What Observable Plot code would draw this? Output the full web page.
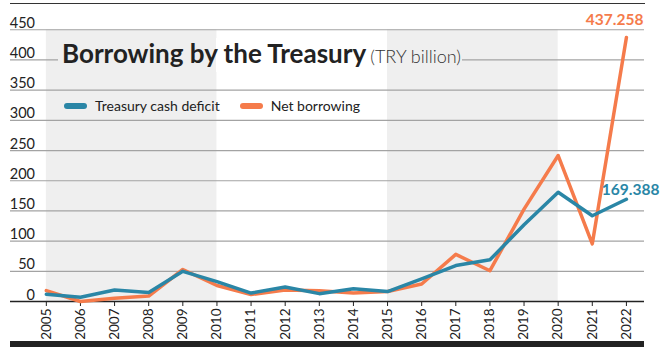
<!DOCTYPE html>
<html><head><meta charset="utf-8">
<script src="https://cdn.jsdelivr.net/npm/d3@7"></script>
<script src="https://cdn.jsdelivr.net/npm/@observablehq/plot@0.6"></script>
<style>
body{margin:0;background:#fff;}
#wrap{position:relative;width:662px;height:355px;font-family:Lato,sans-serif;color:#222;}
#title{position:absolute;left:58px;top:38px;padding:0 1px 0 4px;white-space:nowrap;line-height:30px;}
#title b{font-size:26px;font-weight:700;color:#222;}
#title span{font-size:18px;font-weight:300;color:#333;}
#legend{position:absolute;left:64px;top:97px;font-size:14px;white-space:nowrap;color:#222;}
.sw{display:inline-block;width:23px;height:6px;border-radius:3px;vertical-align:middle;margin-right:8px;position:relative;top:-1px;}
.item{display:inline-block;margin-right:20px;}
#bar{position:absolute;left:10px;top:341px;width:634px;height:5.5px;background:#222;}
</style></head><body><div id="wrap"></div>
<script>
const years = [2005,2006,2007,2008,2009,2010,2011,2012,2013,2014,2015,2016,2017,2018,2019,2020,2021,2022];
const deficit = [12,7,19,15,50,33,14,24,13,21,16.5,37.5,59.6,69,127,181,142,169.388];
const borrowing = [18,0,5.5,9,53,26.5,11.6,19,18,14,16.5,29,78,51,153,241.7,95.5,437.258];
const seriesNames = ["Treasury cash deficit","Net borrowing"];
const seriesColors = ["#2a86a6","#f57b4b"];
const yTicks = [0,50,100,150,200,250,300,350,400,450];
const bandStarts = [2005,2015];
const bandEnds = [2010,2020];
const endLabels = ["169.388","437.258"];

const deficitRows = years.map((y,i)=>({year:y,value:deficit[i]}));
const borrowingRows = years.map((y,i)=>({year:y,value:borrowing[i]}));
const bands = bandStarts.map((s,i)=>({start:s,end:bandEnds[i]}));
const yTop = yTicks[yTicks.length-1];
const lastIdx = years.length-1;

const plot = Plot.plot({
  width:662, height:355,
  marginLeft:10, marginRight:18, marginTop:3, marginBottom:54,
  x:{domain:[2003.95,2022.53], ticks:years, tickFormat:d=>String(d), tickRotate:-90, tickSize:5, tickPadding:2, label:null},
  y:{domain:[0,493.5], axis:null},
  style:{fontFamily:"Lato, sans-serif", fontSize:"13.5px", color:"#222", background:"transparent"},
  marks:[
    Plot.rect(bands,{x1:"start",x2:"end",y1:0,y2:yTop,fill:"#efefef"}),
    Plot.ruleY(yTicks.filter(d=>d>0),{stroke:"#a3a3a3",strokeWidth:1.2}),
    Plot.ruleY([0],{stroke:"#222",strokeWidth:1.5}),
    Plot.frame({anchor:"top", stroke:"#333"}),
    Plot.text(yTicks,{y:d=>d, text:d=>String(d), frameAnchor:"left", dx:24.5, textAnchor:"end", lineAnchor:"bottom", dy:-2, fontSize:14.5, fill:"#222"}),
    Plot.line(borrowingRows,{x:"year",y:"value",stroke:seriesColors[1],strokeWidth:3.5,strokeLinejoin:"round"}),
    Plot.line(deficitRows,{x:"year",y:"value",stroke:seriesColors[0],strokeWidth:3.5,strokeLinejoin:"round"}),
    Plot.text([borrowingRows[lastIdx]],{x:"year",y:"value",text:()=>endLabels[1],textAnchor:"end",lineAnchor:"bottom",dx:17,dy:-12.5,fill:seriesColors[1],fontWeight:"bold",fontSize:15.5}),
    Plot.text([deficitRows[lastIdx]],{x:"year",y:"value",text:()=>endLabels[0],textAnchor:"end",lineAnchor:"bottom",dx:33,dy:-4,fill:seriesColors[0],fontWeight:"bold",fontSize:15.5})
  ]
});
const wrap = document.getElementById("wrap");
wrap.appendChild(plot);

const title = document.createElement("div");
title.id = "title";
title.innerHTML = "<b>Borrowing by the Treasury</b> <span>(TRY billion)</span>";
wrap.appendChild(title);
// background under title follows the shaded bands so the gridline is knocked out
const xs = plot.scale("x");
const tl = 58;
const b1 = xs.apply(bandEnds[0]) - tl, b2 = xs.apply(bandStarts[1]) - tl;
title.style.background = `linear-gradient(to right, #efefef 0px, #efefef ${b1}px, #fff ${b1}px, #fff ${b2}px, #efefef ${b2}px)`;

const legend = document.createElement("div");
legend.id = "legend";
legend.innerHTML = seriesNames.map((n,i)=>`<span class="item"><span class="sw" style="background:${seriesColors[i]}"></span>${n}</span>`).join("");
wrap.appendChild(legend);

const bar = document.createElement("div");
bar.id = "bar";
wrap.appendChild(bar);
</script>
</body></html>
